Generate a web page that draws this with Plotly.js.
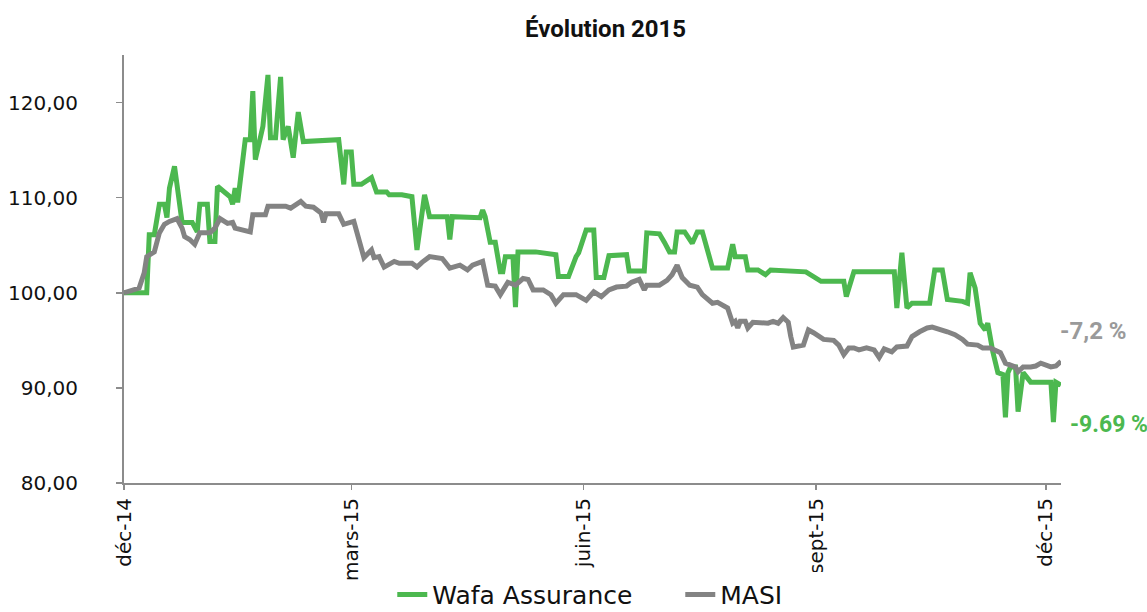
<!DOCTYPE html>
<html>
<head>
<meta charset="utf-8">
<script src="https://cdn.plot.ly/plotly-3.0.1.min.js"></script>
<style>html,body{margin:0;padding:0;background:#fff;}#chart{width:1147px;height:612px;}</style>
</head>
<body>
<div id="chart"></div>
<script>
const chartTitle = "Évolution 2015";
const seriesNames = ["Wafa Assurance", "MASI"];
const tickDates = ["2014-12-01", "2015-03-01", "2015-06-01", "2015-09-01", "2015-12-01"];
const tickLabels = ["déc-14", "mars-15", "juin-15", "sept-15", "déc-15"];
const finalLabels = ["-9.69 %", "-7,2 %"];

const wafaDates = ["2014-12-01","2014-12-10","2014-12-11","2014-12-13","2014-12-15","2014-12-17","2014-12-18","2014-12-19","2014-12-21","2014-12-24","2014-12-28","2014-12-30","2014-12-31","2015-01-03","2015-01-04","2015-01-06","2015-01-07","2015-01-12","2015-01-13","2015-01-14","2015-01-15","2015-01-18","2015-01-20","2015-01-21","2015-01-22","2015-01-25","2015-01-27","2015-01-28","2015-01-30","2015-02-01","2015-02-02","2015-02-04","2015-02-06","2015-02-08","2015-02-10","2015-02-24","2015-02-26","2015-02-27","2015-03-01","2015-03-02","2015-03-05","2015-03-09","2015-03-11","2015-03-15","2015-03-16","2015-03-21","2015-03-25","2015-03-27","2015-03-30","2015-04-01","2015-04-08","2015-04-09","2015-04-10","2015-04-21","2015-04-22","2015-04-23","2015-04-25","2015-04-27","2015-04-29","2015-04-30","2015-05-01","2015-05-04","2015-05-05","2015-05-06","2015-05-13","2015-05-21","2015-05-22","2015-05-26","2015-05-29","2015-05-30","2015-06-02","2015-06-05","2015-06-06","2015-06-09","2015-06-11","2015-06-18","2015-06-19","2015-06-25","2015-06-26","2015-07-01","2015-07-03","2015-07-05","2015-07-07","2015-07-08","2015-07-11","2015-07-14","2015-07-16","2015-07-18","2015-07-22","2015-07-28","2015-07-30","2015-07-31","2015-08-04","2015-08-05","2015-08-09","2015-08-12","2015-08-14","2015-08-28","2015-09-03","2015-09-12","2015-09-13","2015-09-16","2015-10-02","2015-10-03","2015-10-05","2015-10-07","2015-10-09","2015-10-16","2015-10-18","2015-10-21","2015-10-23","2015-10-29","2015-10-31","2015-11-01","2015-11-03","2015-11-05","2015-11-07","2015-11-08","2015-11-10","2015-11-12","2015-11-14","2015-11-15","2015-11-16","2015-11-17","2015-11-19","2015-11-20","2015-11-22","2015-11-25","2015-12-03","2015-12-04","2015-12-05","2015-12-07"];
const wafaValues = [100.0,100.0,106.1,106.1,109.3,109.3,107.9,111.0,113.3,107.4,107.4,106.4,109.3,109.3,105.4,105.4,111.2,110.1,109.3,111.0,109.5,116.1,116.1,121.2,114.0,117.5,122.9,116.3,116.3,122.7,116.1,117.5,114.2,119.0,115.9,116.1,111.4,114.8,114.8,111.4,111.4,112.1,110.6,110.6,110.3,110.3,110.1,104.5,110.3,108.0,108.0,105.6,108.0,107.9,108.7,108.0,105.3,105.3,102.2,102.2,103.8,103.8,98.5,104.3,104.3,104.0,101.7,101.7,103.8,104.2,106.6,106.6,101.6,101.6,103.9,104.0,102.3,102.3,106.3,106.2,105.3,104.3,104.3,106.4,106.4,105.2,106.4,106.4,102.6,102.6,105.1,103.8,103.8,102.4,102.4,101.9,102.4,102.2,101.2,101.2,99.6,102.2,102.2,98.4,104.2,98.4,98.9,98.9,102.4,102.4,99.3,99.1,98.9,102.1,100.5,96.8,96.1,96.8,93.8,91.6,91.4,86.9,91.6,92.2,92.2,87.5,91.6,90.6,90.6,86.4,90.6,90.3];

const masiDates = ["2014-12-01","2014-12-07","2014-12-09","2014-12-10","2014-12-13","2014-12-15","2014-12-17","2014-12-19","2014-12-22","2014-12-24","2014-12-25","2014-12-27","2014-12-29","2014-12-31","2015-01-04","2015-01-06","2015-01-08","2015-01-11","2015-01-13","2015-01-14","2015-01-20","2015-01-21","2015-01-26","2015-01-27","2015-02-03","2015-02-05","2015-02-09","2015-02-11","2015-02-14","2015-02-17","2015-02-18","2015-02-19","2015-02-24","2015-02-26","2015-03-02","2015-03-06","2015-03-09","2015-03-10","2015-03-12","2015-03-14","2015-03-18","2015-03-20","2015-03-25","2015-03-27","2015-03-29","2015-04-01","2015-04-06","2015-04-09","2015-04-13","2015-04-16","2015-04-18","2015-04-22","2015-04-24","2015-04-27","2015-04-29","2015-05-02","2015-05-05","2015-05-08","2015-05-10","2015-05-12","2015-05-16","2015-05-19","2015-05-21","2015-05-24","2015-05-29","2015-06-02","2015-06-05","2015-06-08","2015-06-11","2015-06-14","2015-06-18","2015-06-20","2015-06-23","2015-06-25","2015-06-26","2015-07-01","2015-07-04","2015-07-06","2015-07-08","2015-07-10","2015-07-13","2015-07-16","2015-07-18","2015-07-22","2015-07-24","2015-07-28","2015-07-30","2015-07-31","2015-08-01","2015-08-02","2015-08-04","2015-08-05","2015-08-07","2015-08-13","2015-08-15","2015-08-17","2015-08-19","2015-08-21","2015-08-22","2015-08-23","2015-08-27","2015-08-29","2015-08-31","2015-09-04","2015-09-08","2015-09-10","2015-09-12","2015-09-14","2015-09-16","2015-09-18","2015-09-21","2015-09-24","2015-09-26","2015-09-28","2015-10-01","2015-10-03","2015-10-07","2015-10-09","2015-10-12","2015-10-15","2015-10-17","2015-10-20","2015-10-23","2015-10-26","2015-10-29","2015-10-31","2015-11-04","2015-11-06","2015-11-09","2015-11-13","2015-11-15","2015-11-17","2015-11-19","2015-11-20","2015-11-22","2015-11-25","2015-11-27","2015-11-29","2015-12-03","2015-12-05","2015-12-07"];
const masiValues = [100.0,100.5,102.1,103.8,104.3,106.3,107.2,107.5,107.8,106.8,105.9,105.6,105.1,106.3,106.3,106.8,107.8,107.3,107.4,106.8,106.4,108.2,108.2,109.1,109.1,108.9,109.6,109.1,109.0,108.4,107.4,108.3,108.3,107.2,107.5,103.7,104.5,103.7,103.8,102.7,103.3,103.1,103.1,102.7,103.2,103.8,103.6,102.6,102.9,102.4,102.9,103.3,100.8,100.7,99.8,101.1,100.8,101.5,101.4,100.3,100.3,99.8,98.9,99.8,99.8,99.2,100.1,99.6,100.3,100.6,100.7,101.1,101.4,100.3,100.8,100.8,101.3,101.9,102.9,101.6,100.8,100.6,99.8,98.9,99.0,98.4,96.8,97.0,96.3,97.0,97.0,96.3,96.9,96.8,97.0,96.8,97.4,96.9,95.4,94.3,94.5,96.1,95.8,95.1,95.0,94.5,93.5,94.2,94.2,94.0,94.2,94.0,93.2,94.1,93.8,94.3,94.4,95.4,95.9,96.3,96.4,96.2,95.9,95.6,95.1,94.6,94.5,94.2,94.2,93.7,92.6,92.4,92.2,91.7,92.2,92.2,92.3,92.6,92.2,92.3,92.8];

const GREEN = "#4cb84f";
const GREY = "#838383";
const AXIS = "#8c8c8c";
const BASE_FONT = "DejaVu Sans, sans-serif";
const BOLD_FONT = "Roboto, sans-serif";

const traces = [
  {x: wafaDates, y: wafaValues, name: seriesNames[0], type: "scatter", mode: "lines",
   line: {color: GREEN, width: 5, shape: "linear"}},
  {x: masiDates, y: masiValues, name: seriesNames[1], type: "scatter", mode: "lines",
   line: {color: GREY, width: 5, shape: "linear"}}
];

const layout = {
  width: 1147, height: 612,
  margin: {l: 124, r: 86, t: 55, b: 129, pad: 0},
  paper_bgcolor: "#ffffff", plot_bgcolor: "#ffffff",
  separators: ", ",
  font: {family: BASE_FONT, size: 20, color: "#111111"},
  title: {text: chartTitle, font: {family: BOLD_FONT, size: 24, weight: 700, color: "#111"},
          x: 0.528, xanchor: "center", y: 0.954, yanchor: "middle"},
  xaxis: {
    type: "date", range: ["2014-12-01", "2015-12-07"],
    tickmode: "array", tickvals: tickDates, ticktext: tickLabels, tickangle: -90,
    ticks: "outside", ticklen: 5, tickwidth: 1.5, tickcolor: AXIS,
    showline: true, linecolor: AXIS, linewidth: 2, showgrid: false, zeroline: false,
    tickfont: {family: BASE_FONT, size: 20, color: "#111"}
  },
  yaxis: {
    range: [80, 125], tickmode: "array", tickvals: [80, 90, 100, 110, 120], tickformat: ".2f",
    ticks: "outside", ticklen: 6, tickwidth: 1.5, tickcolor: AXIS, ticklabelstandoff: 34,
    showline: true, linecolor: AXIS, linewidth: 2, showgrid: false, zeroline: false,
    tickfont: {family: BASE_FONT, size: 20, color: "#111"}
  },
  showlegend: true,
  legend: {orientation: "h", xref: "container", yref: "container", x: 0.342, xanchor: "left",
           y: 0.028, yanchor: "middle", font: {family: BASE_FONT, size: 25, color: "#111"},
           entrywidth: 243, entrywidthmode: "pixels", tracegroupgap: 0, borderwidth: 0},
  annotations: [
    {xref: "paper", yref: "paper", x: 1.008, y: 0.136, xanchor: "left", yanchor: "middle",
     text: finalLabels[0], showarrow: false,
     font: {family: BOLD_FONT, size: 23, weight: 700, color: GREEN}},
    {xref: "paper", yref: "paper", x: 0.997, y: 0.355, xanchor: "left", yanchor: "middle",
     text: finalLabels[1], showarrow: false,
     font: {family: BOLD_FONT, size: 24, weight: 700, color: "#9a9a9a"}}
  ]
};

Plotly.newPlot("chart", traces, layout, {displayModeBar: false, staticPlot: true});
</script>
</body>
</html>
